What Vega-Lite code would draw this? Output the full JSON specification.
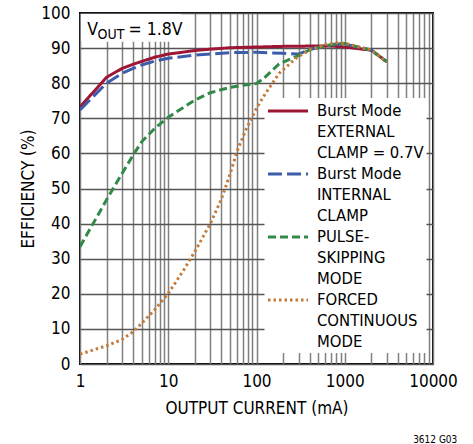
{
  "$schema": "https://vega.github.io/schema/vega-lite/v6.json",
  "width": 353,
  "height": 351,
  "autosize": {"type": "none"},
  "padding": {"left": 80, "top": 13, "right": 40, "bottom": 80},
  "background": "white",
  "config": {
    "font": "DejaVu Sans Condensed, sans-serif",
    "view": {"stroke": "black", "strokeWidth": 2},
    "axis": {
      "labelFont": "DejaVu Sans Condensed, sans-serif",
      "titleFont": "DejaVu Sans Condensed, sans-serif",
      "labelFontSize": 17,
      "titleFontSize": 17,
      "labelColor": "black",
      "titleColor": "black",
      "titleFontWeight": "normal",
      "domain": false,
      "ticks": false,
      "gridWidth": 1.5,
      "labelOverlap": false,
      "labelFlush": false
    }
  },
  "title": {
    "text": "3612 G03",
    "orient": "bottom",
    "anchor": "end",
    "fontSize": 10,
    "fontWeight": "normal",
    "color": "black",
    "offset": 19,
    "font": "DejaVu Sans Condensed, sans-serif"
  },
  "layer": [
    {
      "data": {
        "values": [
          {"series": "Burst Mode External Clamp", "current": 1, "eff": 73.2},
          {"series": "Burst Mode External Clamp", "current": 2, "eff": 81.7},
          {"series": "Burst Mode External Clamp", "current": 3, "eff": 84.2},
          {"series": "Burst Mode External Clamp", "current": 4, "eff": 85.4},
          {"series": "Burst Mode External Clamp", "current": 5, "eff": 86.2},
          {"series": "Burst Mode External Clamp", "current": 7, "eff": 87.4},
          {"series": "Burst Mode External Clamp", "current": 10, "eff": 88.3},
          {"series": "Burst Mode External Clamp", "current": 20, "eff": 89.3},
          {"series": "Burst Mode External Clamp", "current": 30, "eff": 89.7},
          {"series": "Burst Mode External Clamp", "current": 50, "eff": 90.1},
          {"series": "Burst Mode External Clamp", "current": 100, "eff": 90.3},
          {"series": "Burst Mode External Clamp", "current": 200, "eff": 90.5},
          {"series": "Burst Mode External Clamp", "current": 500, "eff": 90.6},
          {"series": "Burst Mode External Clamp", "current": 700, "eff": 90.6},
          {"series": "Burst Mode External Clamp", "current": 1000, "eff": 90.3},
          {"series": "Burst Mode External Clamp", "current": 2000, "eff": 89.4},
          {"series": "Burst Mode External Clamp", "current": 3000, "eff": 86.1},

          {"series": "Burst Mode Internal Clamp", "current": 1, "eff": 72.4},
          {"series": "Burst Mode Internal Clamp", "current": 2, "eff": 80.0},
          {"series": "Burst Mode Internal Clamp", "current": 3, "eff": 82.8},
          {"series": "Burst Mode Internal Clamp", "current": 4, "eff": 84.2},
          {"series": "Burst Mode Internal Clamp", "current": 5, "eff": 85.2},
          {"series": "Burst Mode Internal Clamp", "current": 7, "eff": 86.3},
          {"series": "Burst Mode Internal Clamp", "current": 10, "eff": 87.1},
          {"series": "Burst Mode Internal Clamp", "current": 20, "eff": 88.0},
          {"series": "Burst Mode Internal Clamp", "current": 50, "eff": 88.7},
          {"series": "Burst Mode Internal Clamp", "current": 100, "eff": 88.8},
          {"series": "Burst Mode Internal Clamp", "current": 200, "eff": 88.5},
          {"series": "Burst Mode Internal Clamp", "current": 300, "eff": 88.3},
          {"series": "Burst Mode Internal Clamp", "current": 400, "eff": 89.6},
          {"series": "Burst Mode Internal Clamp", "current": 600, "eff": 90.6},
          {"series": "Burst Mode Internal Clamp", "current": 800, "eff": 91.1},
          {"series": "Burst Mode Internal Clamp", "current": 1000, "eff": 91.2},
          {"series": "Burst Mode Internal Clamp", "current": 2000, "eff": 89.4},
          {"series": "Burst Mode Internal Clamp", "current": 3000, "eff": 86.1},

          {"series": "Pulse-Skipping Mode", "current": 1, "eff": 33.4},
          {"series": "Pulse-Skipping Mode", "current": 2, "eff": 46.8},
          {"series": "Pulse-Skipping Mode", "current": 3, "eff": 54.3},
          {"series": "Pulse-Skipping Mode", "current": 4, "eff": 59.5},
          {"series": "Pulse-Skipping Mode", "current": 5, "eff": 63.3},
          {"series": "Pulse-Skipping Mode", "current": 7, "eff": 67.1},
          {"series": "Pulse-Skipping Mode", "current": 10, "eff": 70.3},
          {"series": "Pulse-Skipping Mode", "current": 20, "eff": 75.2},
          {"series": "Pulse-Skipping Mode", "current": 30, "eff": 77.3},
          {"series": "Pulse-Skipping Mode", "current": 50, "eff": 78.8},
          {"series": "Pulse-Skipping Mode", "current": 70, "eff": 79.4},
          {"series": "Pulse-Skipping Mode", "current": 100, "eff": 79.9},
          {"series": "Pulse-Skipping Mode", "current": 120, "eff": 81.3},
          {"series": "Pulse-Skipping Mode", "current": 180, "eff": 85.5},
          {"series": "Pulse-Skipping Mode", "current": 280, "eff": 87.6},
          {"series": "Pulse-Skipping Mode", "current": 400, "eff": 89.5},
          {"series": "Pulse-Skipping Mode", "current": 600, "eff": 90.6},
          {"series": "Pulse-Skipping Mode", "current": 800, "eff": 91.2},
          {"series": "Pulse-Skipping Mode", "current": 1000, "eff": 91.3},
          {"series": "Pulse-Skipping Mode", "current": 2000, "eff": 89.4},
          {"series": "Pulse-Skipping Mode", "current": 3000, "eff": 86.1},

          {"series": "Forced Continuous Mode", "current": 1, "eff": 2.8},
          {"series": "Forced Continuous Mode", "current": 2, "eff": 5.2},
          {"series": "Forced Continuous Mode", "current": 3, "eff": 7.0},
          {"series": "Forced Continuous Mode", "current": 4, "eff": 9.2},
          {"series": "Forced Continuous Mode", "current": 5, "eff": 11.6},
          {"series": "Forced Continuous Mode", "current": 7, "eff": 15.4},
          {"series": "Forced Continuous Mode", "current": 10, "eff": 20.1},
          {"series": "Forced Continuous Mode", "current": 15, "eff": 26.8},
          {"series": "Forced Continuous Mode", "current": 20, "eff": 32.0},
          {"series": "Forced Continuous Mode", "current": 30, "eff": 40.0},
          {"series": "Forced Continuous Mode", "current": 40, "eff": 47.0},
          {"series": "Forced Continuous Mode", "current": 50, "eff": 54.0},
          {"series": "Forced Continuous Mode", "current": 60, "eff": 60.5},
          {"series": "Forced Continuous Mode", "current": 75, "eff": 66.5},
          {"series": "Forced Continuous Mode", "current": 100, "eff": 72.8},
          {"series": "Forced Continuous Mode", "current": 120, "eff": 76.2},
          {"series": "Forced Continuous Mode", "current": 180, "eff": 82.8},
          {"series": "Forced Continuous Mode", "current": 280, "eff": 87.1},
          {"series": "Forced Continuous Mode", "current": 400, "eff": 89.5},
          {"series": "Forced Continuous Mode", "current": 600, "eff": 91.0},
          {"series": "Forced Continuous Mode", "current": 800, "eff": 91.5},
          {"series": "Forced Continuous Mode", "current": 1000, "eff": 91.4},
          {"series": "Forced Continuous Mode", "current": 2000, "eff": 89.4},
          {"series": "Forced Continuous Mode", "current": 3000, "eff": 86.1}
        ]
      },
      "mark": {"type": "line", "strokeWidth": 3, "clip": true},
      "encoding": {
        "x": {
          "field": "current",
          "type": "quantitative",
          "scale": {"type": "log", "domain": [1, 10000]},
          "axis": {
            "title": "OUTPUT CURRENT (mA)",
            "values": [1, 2, 3, 4, 5, 6, 7, 8, 9, 10, 20, 30, 40, 50, 60, 70, 80, 90, 100, 200, 300, 400, 500, 600, 700, 800, 900, 1000, 2000, 3000, 4000, 5000, 6000, 7000, 8000, 9000, 10000],
            "format": "d",
            "labelExpr": "(datum.value == 1 || datum.value == 10 || datum.value == 100 || datum.value == 1000 || datum.value == 10000) ? datum.label : ''",
            "gridColor": "#808080",
            "labelPadding": 9,
            "titlePadding": 11
          }
        },
        "y": {
          "field": "eff",
          "type": "quantitative",
          "scale": {"domain": [0, 100]},
          "axis": {
            "title": "EFFICIENCY (%)",
            "values": [0, 10, 20, 30, 40, 50, 60, 70, 80, 90, 100],
            "tickCount": 11,
            "gridColor": "#555555",
            "labelPadding": 10,
            "titlePadding": 3
          }
        },
        "color": {
          "field": "series",
          "type": "nominal",
          "scale": {
            "domain": ["Burst Mode External Clamp", "Burst Mode Internal Clamp", "Pulse-Skipping Mode", "Forced Continuous Mode"],
            "range": ["#9E1636", "#3B5DAA", "#338A48", "#C47A38"]
          },
          "legend": {
            "title": null,
            "orient": "none",
            "legendX": 184.5,
            "legendY": 85,
            "fillColor": "white",
            "padding": 2,
            "symbolType": "stroke",
            "symbolSize": 1600,
            "symbolStrokeWidth": 3,
            "labelFont": "DejaVu Sans Condensed, sans-serif",
            "labelFontSize": 16.5,
            "labelColor": "black",
            "labelOffset": 7.5,
            "labelLimit": 300,
            "rowPadding": 1,
            "labelBaseline": "top",
            "labelExpr": "datum.label == 'Burst Mode External Clamp' ? ['Burst Mode', 'EXTERNAL', 'CLAMP = 0.7V'] : datum.label == 'Burst Mode Internal Clamp' ? ['Burst Mode', 'INTERNAL', 'CLAMP'] : datum.label == 'Pulse-Skipping Mode' ? ['PULSE-', 'SKIPPING', 'MODE'] : ['FORCED', 'CONTINUOUS', 'MODE']",
            "encode": {
              "labels": {"update": {"y": {"value": 3}, "lineHeight": {"value": 21}}},
              "symbols": {"update": {"y": {"value": 11}}}
            }
          }
        },
        "strokeDash": {
          "field": "series",
          "type": "nominal",
          "scale": {
            "domain": ["Burst Mode External Clamp", "Burst Mode Internal Clamp", "Pulse-Skipping Mode", "Forced Continuous Mode"],
            "range": [[1, 0], [14, 5], [8, 4], [2.5, 3]]
          },
          "legend": {
            "title": null,
            "orient": "none",
            "legendX": 184.5,
            "legendY": 85,
            "fillColor": "white",
            "padding": 2,
            "symbolType": "stroke",
            "symbolSize": 1600,
            "symbolStrokeWidth": 3,
            "labelFont": "DejaVu Sans Condensed, sans-serif",
            "labelFontSize": 16.5,
            "labelColor": "black",
            "labelOffset": 7.5,
            "labelLimit": 300,
            "rowPadding": 1,
            "labelBaseline": "top",
            "labelExpr": "datum.label == 'Burst Mode External Clamp' ? ['Burst Mode', 'EXTERNAL', 'CLAMP = 0.7V'] : datum.label == 'Burst Mode Internal Clamp' ? ['Burst Mode', 'INTERNAL', 'CLAMP'] : datum.label == 'Pulse-Skipping Mode' ? ['PULSE-', 'SKIPPING', 'MODE'] : ['FORCED', 'CONTINUOUS', 'MODE']",
            "encode": {
              "labels": {"update": {"y": {"value": 3}, "lineHeight": {"value": 21}}},
              "symbols": {"update": {"y": {"value": 11}}}
            }
          }
        }
      }
    },
    {
      "data": {"values": [{}]},
      "mark": {"type": "rect", "fill": "white"},
      "encoding": {
        "x": {"datum": 1.03, "type": "quantitative", "axis": {"title": "OUTPUT CURRENT (mA)", "values": [1, 2, 3, 4, 5, 6, 7, 8, 9, 10, 20, 30, 40, 50, 60, 70, 80, 90, 100, 200, 300, 400, 500, 600, 700, 800, 900, 1000, 2000, 3000, 4000, 5000, 6000, 7000, 8000, 9000, 10000], "format": "d", "labelExpr": "(datum.value == 1 || datum.value == 10 || datum.value == 100 || datum.value == 1000 || datum.value == 10000) ? datum.label : ''", "gridColor": "#808080", "labelPadding": 9, "titlePadding": 11}},
        "x2": {"datum": 14},
        "y": {"datum": 91.8, "type": "quantitative", "axis": {"title": "EFFICIENCY (%)", "values": [0, 10, 20, 30, 40, 50, 60, 70, 80, 90, 100], "tickCount": 11, "gridColor": "#555555", "labelPadding": 10, "titlePadding": 3}},
        "y2": {"datum": 99.7}
      }
    },
    {
      "data": {"values": [{}]},
      "mark": {"type": "text", "text": "V", "fontSize": 17.5, "align": "left", "baseline": "alphabetic", "color": "black"},
      "encoding": {
        "x": {"datum": 1.21, "type": "quantitative", "axis": {"title": "OUTPUT CURRENT (mA)", "values": [1, 2, 3, 4, 5, 6, 7, 8, 9, 10, 20, 30, 40, 50, 60, 70, 80, 90, 100, 200, 300, 400, 500, 600, 700, 800, 900, 1000, 2000, 3000, 4000, 5000, 6000, 7000, 8000, 9000, 10000], "format": "d", "labelExpr": "(datum.value == 1 || datum.value == 10 || datum.value == 100 || datum.value == 1000 || datum.value == 10000) ? datum.label : ''", "gridColor": "#808080", "labelPadding": 9, "titlePadding": 11}},
        "y": {"datum": 93.7, "type": "quantitative", "axis": {"title": "EFFICIENCY (%)", "values": [0, 10, 20, 30, 40, 50, 60, 70, 80, 90, 100], "tickCount": 11, "gridColor": "#555555", "labelPadding": 10, "titlePadding": 3}}
      }
    },
    {
      "data": {"values": [{}]},
      "mark": {"type": "text", "text": "OUT", "fontSize": 14, "align": "left", "baseline": "alphabetic", "color": "black"},
      "encoding": {
        "x": {"datum": 1.58, "type": "quantitative", "axis": {"title": "OUTPUT CURRENT (mA)", "values": [1, 2, 3, 4, 5, 6, 7, 8, 9, 10, 20, 30, 40, 50, 60, 70, 80, 90, 100, 200, 300, 400, 500, 600, 700, 800, 900, 1000, 2000, 3000, 4000, 5000, 6000, 7000, 8000, 9000, 10000], "format": "d", "labelExpr": "(datum.value == 1 || datum.value == 10 || datum.value == 100 || datum.value == 1000 || datum.value == 10000) ? datum.label : ''", "gridColor": "#808080", "labelPadding": 9, "titlePadding": 11}},
        "y": {"datum": 92.5, "type": "quantitative", "axis": {"title": "EFFICIENCY (%)", "values": [0, 10, 20, 30, 40, 50, 60, 70, 80, 90, 100], "tickCount": 11, "gridColor": "#555555", "labelPadding": 10, "titlePadding": 3}}
      }
    },
    {
      "data": {"values": [{}]},
      "mark": {"type": "text", "text": "= 1.8V", "fontSize": 17.5, "align": "left", "baseline": "alphabetic", "color": "black"},
      "encoding": {
        "x": {"datum": 3.55, "type": "quantitative", "axis": {"title": "OUTPUT CURRENT (mA)", "values": [1, 2, 3, 4, 5, 6, 7, 8, 9, 10, 20, 30, 40, 50, 60, 70, 80, 90, 100, 200, 300, 400, 500, 600, 700, 800, 900, 1000, 2000, 3000, 4000, 5000, 6000, 7000, 8000, 9000, 10000], "format": "d", "labelExpr": "(datum.value == 1 || datum.value == 10 || datum.value == 100 || datum.value == 1000 || datum.value == 10000) ? datum.label : ''", "gridColor": "#808080", "labelPadding": 9, "titlePadding": 11}},
        "y": {"datum": 93.7, "type": "quantitative", "axis": {"title": "EFFICIENCY (%)", "values": [0, 10, 20, 30, 40, 50, 60, 70, 80, 90, 100], "tickCount": 11, "gridColor": "#555555", "labelPadding": 10, "titlePadding": 3}}
      }
    }
  ]
}
